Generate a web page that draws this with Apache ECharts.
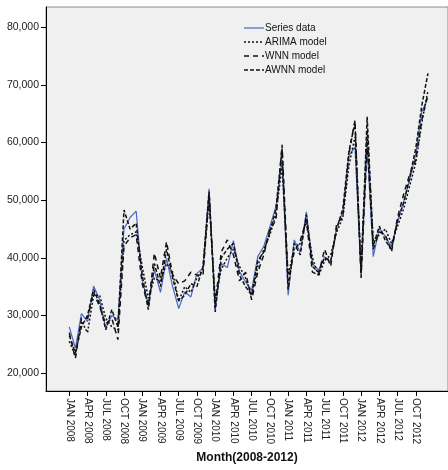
<!DOCTYPE html>
<html>
<head>
<meta charset="utf-8">
<script src="https://cdn.jsdelivr.net/npm/echarts@6/dist/echarts.min.js"></script>
<style>
html,body{margin:0;padding:0;background:#fff;}
#c{width:448px;height:470px;}
</style>
</head>
<body>
<div id="c"></div>
<script>
// Month index 0 = JAN 2008 ... 59 = DEC 2012
var seriesData = [28000,24300,30300,28900,35100,32700,27800,30000,29200,45000,47000,48100,
  36000,32100,37900,34000,39900,35000,31200,34100,33200,37300,38200,52000,
  31000,39000,38300,43000,37600,35800,34400,40200,42000,45400,48900,57000,
  33500,43100,41000,48000,39000,37900,40200,39100,45400,48000,57800,59200,
  37000,59500,40200,45100,43700,41900,46300,49700,53500,58100,65400,67700];
var arimaModel = [25500,23000,29000,27000,33500,33500,29500,28000,27500,43000,44000,44500,
  38500,33000,36500,36000,39000,37500,32500,35000,34000,36500,38000,50000,
  33000,38000,40000,41500,38500,36500,33500,38500,41500,44000,47500,56000,
  37000,41500,42500,46500,40000,36800,39500,40500,44500,47000,56000,61000,
  38000,62000,43000,44000,45000,42500,45500,48500,52500,56500,63500,69000];
var wnnModel = [27000,22500,29500,29500,34000,31500,28500,29500,25800,42000,43500,44000,
  35500,31500,40800,36500,42800,37000,35500,36000,37500,37000,37000,51000,
  32000,41000,43100,40500,36000,37500,32700,37500,40500,45000,46500,59600,
  36000,41000,43000,46500,37500,37000,41500,38500,46000,47000,58000,63900,
  36500,60000,41500,44500,44000,41000,47000,51000,54500,57000,64000,68500];
var awnnModel = [26500,23500,28000,30000,34500,32000,27500,31000,28000,48300,45000,46000,
  37000,31000,39000,35000,41500,36500,32500,33500,35500,35000,38500,51500,
  30600,40000,41500,42500,37000,35000,33500,39500,41000,44500,48500,59000,
  34500,42500,40500,47500,38500,37500,40000,39500,45000,48500,58500,63500,
  37200,64500,42000,45500,43000,41500,46500,49500,54000,59000,66500,72000];
var tickMonths = [0,3,6,9,12,15,18,21,24,27,30,33,36,39,42,45,48,51,54,57];
var tickLabels = ['JAN 2008','APR 2008','JUL 2008','OCT 2008','JAN 2009','APR 2009','JUL 2009','OCT 2009',
  'JAN 2010','APR 2010','JUL 2010','OCT 2010','JAN 2011','APR 2011','JUL 2011','OCT 2011',
  'JAN 2012','APR 2012','JUL 2012','OCT 2012'];
var yTicks = [20000,30000,40000,50000,60000,70000,80000];
var seriesNames = ['Series data','ARIMA model','WNN model','AWNN model'];

function pairs(arr){ return arr.map(function(v,i){ return [i,v]; }); }
function fmt(v){ return String(v).replace(/\B(?=(\d{3})+(?!\d))/g, ','); }

var font = '"Liberation Sans", Arial, sans-serif';
var lineStyles = [
  {color:'#4a67c4', width:1.2, type:'solid', dash:null},
  {color:'#111', width:1.5, type:[2,2], dash:[2,2]},
  {color:'#111', width:1.5, type:[5,4], dash:[5,4]},
  {color:'#111', width:1.5, type:[4,2], dash:[4,2]}
];
var legendRowsY = [28, 42, 56, 70];

var legendGraphics = [];
seriesNames.forEach(function(n, k){
  var ls = lineStyles[k];
  legendGraphics.push({type:'line', shape:{x1:244, y1:legendRowsY[k], x2:264, y2:legendRowsY[k]},
    style:{stroke:ls.color, lineWidth:ls.width, lineDash:ls.dash}, z:10});
  legendGraphics.push({type:'text', x:265, y:legendRowsY[k],
    style:{text:n, fontSize:10, fontFamily:font, fill:'#111', textVerticalAlign:'middle', verticalAlign:'middle'}, z:10});
});

var chart = echarts.init(document.getElementById('c'), null, {renderer:'canvas'});
chart.setOption({
  animation:false,
  backgroundColor:'#ffffff',
  textStyle:{fontFamily:font},
  grid:{left:46, top:7, right:0, bottom:79, show:true, backgroundColor:'#f0f0f0', borderColor:'#8c8c8c', borderWidth:1},
  graphic:legendGraphics,
  xAxis:{
    type:'value', min:-3.83, max:62.3,
    name:'Month(2008-2012)', nameLocation:'middle', nameGap:60,
    nameTextStyle:{fontSize:12, fontWeight:'bold', color:'#111', fontFamily:font},
    axisLine:{show:true, onZero:false, lineStyle:{color:'#000', width:1}},
    axisTick:{show:true, length:5, customValues:tickMonths, lineStyle:{color:'#000'}},
    axisLabel:{show:true, rotate:-90, margin:7, fontSize:10, color:'#222', fontFamily:font,
      customValues:tickMonths,
      formatter:function(v){ var k = tickMonths.indexOf(Math.round(v)); return k>=0 ? tickLabels[k] : ''; }},
    splitLine:{show:false}
  },
  yAxis:{
    type:'value', min:16875, max:83540,
    axisLine:{show:true, onZero:false, lineStyle:{color:'#000', width:1}},
    axisTick:{show:true, length:5, customValues:yTicks, lineStyle:{color:'#000'}},
    axisLabel:{show:true, margin:7, fontSize:10.5, color:'#222', fontFamily:font,
      customValues:yTicks, formatter:function(v){ return fmt(v); }},
    splitLine:{show:false}
  },
  series:seriesNames.map(function(n, k){
    var ls = lineStyles[k];
    return {name:n, type:'line', data:pairs([seriesData, arimaModel, wnnModel, awnnModel][k]),
      showSymbol:false, symbol:'none',
      lineStyle:{color:ls.color, width:ls.width, type:ls.type}, itemStyle:{color:ls.color}, z:2+k};
  })
});
</script>
</body>
</html>
